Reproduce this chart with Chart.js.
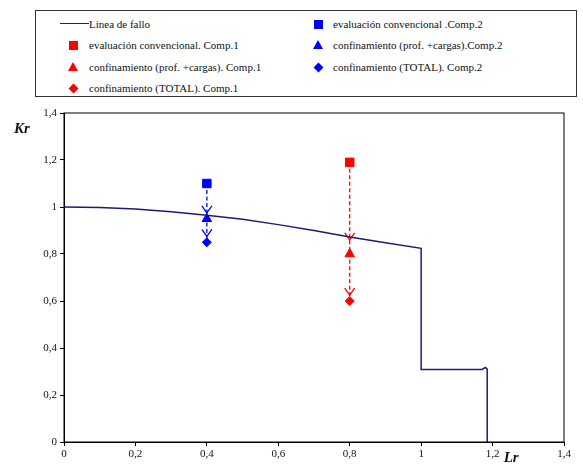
<!DOCTYPE html>
<html lang="es">
<head>
  <meta charset="UTF-8" />
  <title>Diagrama de fallo</title>
  <script src="https://cdn.jsdelivr.net/npm/chart.js"></script>
  <style>
    body { margin: 0; background: #fff; }
    .wrap { position: relative; width: 583px; height: 464px; }
    .legend {
      position: absolute; left: 35px; top: 10px; width: 540px; height: 85px;
      border: 1.5px solid #333; background: #fff;
      font-family: "Liberation Serif", serif; font-size: 11px; color: #111;
    }
    .item { position: absolute; height: 14px; line-height: 14px; white-space: nowrap; }
    .mk { position: absolute; }
  </style>
</head>
<body>
<div class="wrap">
  <canvas id="kr"></canvas>
  <div class="legend" id="legend"></div>
</div>

<script>
  // failure line (Lr, Kr)
  const lineLr = [0, 0.1, 0.2, 0.3, 0.4, 0.5, 0.6, 0.7, 0.8, 0.9, 1.0, 1.0, 1.17, 1.18, 1.185, 1.185];
  const lineKr = [1.0, 0.998, 0.992, 0.98, 0.965, 0.948, 0.925, 0.9, 0.872, 0.848, 0.824, 0.309, 0.309, 0.317, 0.31, 0];

  // assessment points
  const comp1Lr = 0.8;
  const comp1Kr = [1.19, 0.80, 0.60];   // convencional, prof.+cargas, TOTAL
  const comp2Lr = 0.4;
  const comp2Kr = [1.10, 0.95, 0.85];

  // arrow heads along the dashed paths
  const comp1Tips = [0.86, 0.625];
  const comp2Tips = [0.975, 0.875];

  const xTicks = [0, 0.2, 0.4, 0.6, 0.8, 1, 1.2, 1.4];
  const yTicks = [0, 0.2, 0.4, 0.6, 0.8, 1, 1.2, 1.4];

  const RED = '#ff0000', BLUE = '#0000ff', NAVY = '#1b1b7a';
  const serif = '"Liberation Serif", serif';

  const pts = (x, ys) => ys.map(y => ({ x: x, y: y }));
  const fmt = v => String(Math.round(v * 10) / 10).replace('.', ',');

  const datasets = [
    { label: 'Linea de fallo', data: lineLr.map((x, i) => ({ x: x, y: lineKr[i] })),
      showLine: true, borderColor: NAVY, borderWidth: 1.5, pointRadius: 0, tension: 0 },
    { label: 'evaluación convencional. Comp.1', data: pts(comp1Lr, [comp1Kr[0]]),
      pointStyle: 'rect', pointRadius: 6, backgroundColor: RED, borderColor: RED },
    { label: 'confinamiento (prof. +cargas). Comp.1', data: pts(comp1Lr, [comp1Kr[1]]),
      pointStyle: 'triangle', pointRadius: 5.5, backgroundColor: RED, borderColor: RED },
    { label: 'confinamiento (TOTAL). Comp.1', data: pts(comp1Lr, [comp1Kr[2]]),
      pointStyle: 'rectRot', pointRadius: 4.5, backgroundColor: RED, borderColor: RED },
    { label: 'evaluación convencional .Comp.2', data: pts(comp2Lr, [comp2Kr[0]]),
      pointStyle: 'rect', pointRadius: 6, backgroundColor: BLUE, borderColor: BLUE },
    { label: 'confinamiento (prof. +cargas).Comp.2', data: pts(comp2Lr, [comp2Kr[1]]),
      pointStyle: 'triangle', pointRadius: 5.5, backgroundColor: BLUE, borderColor: BLUE },
    { label: 'confinamiento (TOTAL). Comp.2', data: pts(comp2Lr, [comp2Kr[2]]),
      pointStyle: 'rectRot', pointRadius: 4.5, backgroundColor: BLUE, borderColor: BLUE }
  ];

  // dashed arrows + frame + axis titles
  const extras = {
    id: 'extras',
    beforeDatasetsDraw(chart) {
      const { ctx, scales: { x, y } } = chart;
      const arrows = [
        { lr: comp1Lr, from: comp1Kr[0], to: comp1Kr[2], tips: comp1Tips, color: RED },
        { lr: comp2Lr, from: comp2Kr[0], to: comp2Kr[2], tips: comp2Tips, color: BLUE }
      ];
      ctx.save();
      arrows.forEach(a => {
        const px = x.getPixelForValue(a.lr);
        ctx.strokeStyle = a.color;
        ctx.lineWidth = 1.3;
        ctx.setLineDash([4, 2.5]);
        ctx.beginPath();
        ctx.moveTo(px, y.getPixelForValue(a.from));
        ctx.lineTo(px, y.getPixelForValue(a.to));
        ctx.stroke();
        ctx.setLineDash([]);
        a.tips.forEach(t => {
          const py = y.getPixelForValue(t);
          ctx.beginPath();
          ctx.moveTo(px - 5, py - 7);
          ctx.lineTo(px, py);
          ctx.lineTo(px + 5, py - 7);
          ctx.stroke();
        });
      });
      ctx.restore();
    },
    afterDraw(chart) {
      const { ctx, chartArea: ca, scales: { x, y } } = chart;
      ctx.save();
      ctx.strokeStyle = '#000';
      ctx.lineWidth = 1;
      ctx.strokeRect(ca.left, ca.top, ca.right - ca.left, ca.bottom - ca.top);
      ctx.fillStyle = '#111';
      ctx.font = 'italic bold 15px ' + serif;
      ctx.textAlign = 'center';
      ctx.textBaseline = 'middle';
      ctx.fillText('Kr', 22, y.getPixelForValue(1.33));
      ctx.fillText('Lr', x.getPixelForValue(1.252), ca.bottom + 16);
      ctx.restore();
    }
  };

  function draw() {
    new Chart(document.getElementById('kr'), {
      type: 'scatter',
      data: { datasets: datasets },
      options: {
        responsive: true,
        maintainAspectRatio: false,
        animation: false,
        layout: { padding: { top: 113, right: 19, left: 0, bottom: 0 } },
        plugins: { legend: { display: false }, tooltip: { enabled: false } },
        scales: {
          x: {
            type: 'linear', min: 0, max: 1.4,
            afterBuildTicks: s => { s.ticks = xTicks.map(v => ({ value: v })); },
            afterFit: s => { s.height = 22; },
            grid: { drawOnChartArea: false, tickLength: 4, color: '#000' },
            border: { color: '#000' },
            ticks: { color: '#111', padding: 2, font: { family: serif, size: 11 }, callback: v => fmt(v) }
          },
          y: {
            type: 'linear', min: 0, max: 1.4,
            afterBuildTicks: s => { s.ticks = yTicks.map(v => ({ value: v })); },
            afterFit: s => { s.width = 64; },
            grid: { drawOnChartArea: false, tickLength: 4, color: '#000' },
            border: { color: '#000' },
            ticks: { color: '#111', padding: 3, font: { family: serif, size: 11 }, callback: v => fmt(v) }
          }
        }
      },
      plugins: [extras]
    });
  }

  // html legend in two columns
  const legend = document.getElementById('legend');
  const slots = [[0, 0], [0, 1], [0, 2], [0, 3], [1, 0], [1, 1], [1, 2]];
  const colX = [{ mk: 37, txt: 53 }, { mk: 282, txt: 297 }];
  const rowY = [13, 34, 56, 77];
  datasets.forEach((ds, i) => {
    const [c, r] = slots[i];
    const cy = rowY[r];
    const mk = document.createElement('div');
    mk.className = 'mk';
    const col = ds.backgroundColor || ds.borderColor;
    if (ds.showLine) {
      Object.assign(mk.style, { left: '24px', top: (cy - 1) + 'px', width: '29px', height: '0', borderTop: '1.5px solid ' + NAVY });
    } else if (ds.pointStyle === 'rect') {
      Object.assign(mk.style, { left: (colX[c].mk - 4.5) + 'px', top: (cy - 4.5) + 'px', width: '9px', height: '9px', background: col });
    } else if (ds.pointStyle === 'triangle') {
      Object.assign(mk.style, { left: (colX[c].mk - 5) + 'px', top: (cy - 5) + 'px', width: '0', height: '0',
        borderLeft: '5px solid transparent', borderRight: '5px solid transparent', borderBottom: '9px solid ' + col });
    } else {
      Object.assign(mk.style, { left: (colX[c].mk - 3.5) + 'px', top: (cy - 3.5) + 'px', width: '7px', height: '7px',
        background: col, transform: 'rotate(45deg)' });
    }
    legend.appendChild(mk);
    const it = document.createElement('div');
    it.className = 'item';
    it.style.left = colX[c].txt + 'px';
    it.style.top = (cy - 7) + 'px';
    it.textContent = ds.label;
    legend.appendChild(it);
  });

  if (document.fonts && document.fonts.load) {
    document.fonts.load('11px "Liberation Serif"').then(draw, draw);
  } else {
    draw();
  }
</script>
</body>
</html>
